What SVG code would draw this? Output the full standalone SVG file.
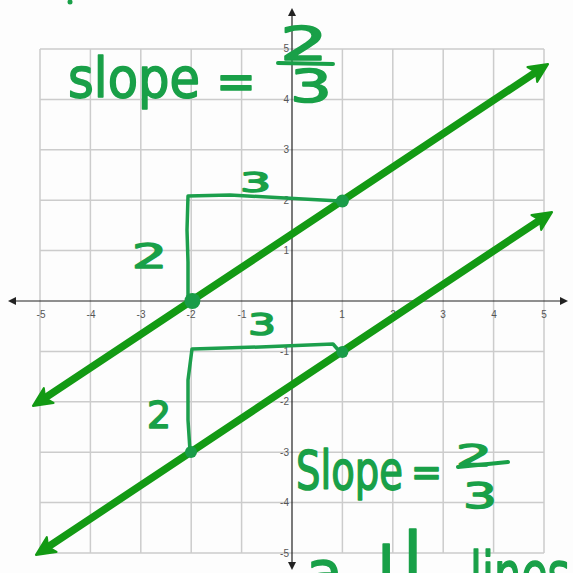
<svg xmlns="http://www.w3.org/2000/svg" width="573" height="573" viewBox="0 0 573 573">
<defs>
<style>
.grid{stroke:#cccccc;stroke-width:1.5;fill:none}
.axis{stroke:#222;stroke-width:1.2;fill:none}
.lbl{font-family:"Liberation Sans",Arial,sans-serif;font-size:10px;fill:#555}
.xl{text-anchor:middle}
.yl{text-anchor:end}
.gline{stroke:#139a14;stroke-width:7.5;fill:none;stroke-linecap:round}
.tri{stroke:#1c9f4c;stroke-width:3.5;fill:none;stroke-linejoin:round;stroke-linecap:round}
.dot{fill:#1a9c48}
.hw{font-family:"DejaVu Sans","Liberation Sans",sans-serif;fill:#19a048}
.thk{stroke:#19a048;stroke-width:1.6;stroke-linejoin:round}
</style>
<marker id="ga" viewBox="0 0 20 20" refX="10" refY="10" markerWidth="22" markerHeight="22" markerUnits="userSpaceOnUse" orient="auto-start-reverse">
<path d="M2,2 L19,10 L2,18 L6,10 z" fill="#139a14" stroke="#139a14" stroke-width="2" stroke-linejoin="round"/>
</marker>
<marker id="ka" viewBox="0 0 10 10" refX="5" refY="5" markerWidth="8" markerHeight="8" markerUnits="userSpaceOnUse" orient="auto-start-reverse">
<path d="M0,0 L10,5 L0,10 z" fill="#222"/>
</marker>
</defs>
<rect width="573" height="573" fill="#fdfdfd"/>
<g id="grid">
<path class="grid" d="M40,49V553M90.4,49V553M140.8,49V553M191.2,49V553M241.6,49V553M342.4,49V553M392.8,49V553M443.2,49V553M493.6,49V553M544,49V553"/>
<path class="grid" d="M40,49H544M40,99.4H544M40,149.8H544M40,200.2H544M40,250.6H544M40,351.4H544M40,401.8H544M40,452.2H544M40,502.6H544M40,553H544"/>
</g>
<g id="axes">
<line class="axis" x1="12" y1="301" x2="564" y2="301" marker-start="url(#ka)" marker-end="url(#ka)"/>
<line class="axis" x1="292" y1="12" x2="292" y2="566" marker-start="url(#ka)" marker-end="url(#ka)"/>
</g>
<g id="xlabels" class="lbl xl">
<text x="41" y="318">-5</text><text x="91" y="318">-4</text><text x="141" y="318">-3</text><text x="191" y="318">-2</text><text x="242" y="318">-1</text>
<text x="342" y="318">1</text><text x="393" y="318">2</text><text x="443" y="318">3</text><text x="494" y="318">4</text><text x="544" y="318">5</text>
</g>
<g id="ylabels" class="lbl yl">
<text x="289" y="52">5</text><text x="289" y="103">4</text><text x="289" y="153">3</text><text x="289" y="204">2</text><text x="289" y="254">1</text>
<text x="289" y="355">-1</text><text x="289" y="405">-2</text><text x="289" y="456">-3</text><text x="289" y="506">-4</text><text x="289" y="557">-5</text>
</g>
<g id="connectors">
<line class="gline" x1="41.3" y1="400.4" x2="539.7" y2="69.6" marker-start="url(#ga)" marker-end="url(#ga)"/>
<line class="gline" x1="44.3" y1="549.4" x2="543.7" y2="217.6" marker-start="url(#ga)" marker-end="url(#ga)"/>
<path class="tri" d="M188,298 L188,262 L187,230 L188,196 L230,195 L285,198 L340,201"/>
<path class="tri" d="M190,451 L188,420 L188,380 L192,349 L260,347 L333,344 L340,352"/>
</g>
<g id="points">
<circle class="dot" cx="192.4" cy="301" r="8"/>
<circle class="dot" cx="342.4" cy="201" r="6.5"/>
<circle class="dot" cx="342.4" cy="352" r="6"/>
<circle class="dot" cx="191" cy="452" r="6"/>
</g>
<g id="labels-top">
<text class="hw thk" x="68" y="97" font-size="56" textLength="132" lengthAdjust="spacingAndGlyphs">slope</text>
<text class="hw thk" x="216" y="99" font-size="50" textLength="40" lengthAdjust="spacingAndGlyphs">=</text>
<text class="hw thk" x="280" y="60" font-size="46" textLength="48" lengthAdjust="spacingAndGlyphs">2</text>
<line x1="278" y1="63" x2="333" y2="64" stroke="#19a048" stroke-width="4" stroke-linecap="round"/>
<text class="hw thk" x="290" y="102" font-size="44" textLength="42" lengthAdjust="spacingAndGlyphs">3</text>
</g>
<g id="labels-tri">
<text class="hw thk" x="240" y="192" font-size="27" textLength="31" lengthAdjust="spacingAndGlyphs">3</text>
<text class="hw thk" x="132" y="268" font-size="34" textLength="35" lengthAdjust="spacingAndGlyphs">2</text>
<text class="hw thk" x="248" y="335" font-size="31" textLength="28" lengthAdjust="spacingAndGlyphs">3</text>
<text class="hw thk" x="147" y="428" font-size="37" textLength="24" lengthAdjust="spacingAndGlyphs">2</text>
</g>
<g id="labels-bottom">
<text class="hw thk" x="296" y="489" font-size="54" textLength="107" lengthAdjust="spacingAndGlyphs">Slope</text>
<text class="hw thk" x="411" y="486" font-size="40" textLength="31" lengthAdjust="spacingAndGlyphs">=</text>
<text class="hw thk" x="456" y="466" font-size="30" textLength="36" lengthAdjust="spacingAndGlyphs">2</text>
<line x1="458" y1="467" x2="508" y2="462" stroke="#19a048" stroke-width="4" stroke-linecap="round"/>
<text class="hw thk" x="463" y="508" font-size="36" textLength="34" lengthAdjust="spacingAndGlyphs">3</text>
<text class="hw thk" x="306" y="594" font-size="60">a</text>
<text class="hw thk" x="377" y="594" font-size="66">l</text>
<text class="hw thk" x="403" y="582" font-size="70">l</text>
<text class="hw thk" x="470" y="596" font-size="62" textLength="100" lengthAdjust="spacingAndGlyphs">lines</text>
<circle cx="70" cy="2" r="2.5" fill="#19a048"/>
</g>
</svg>
